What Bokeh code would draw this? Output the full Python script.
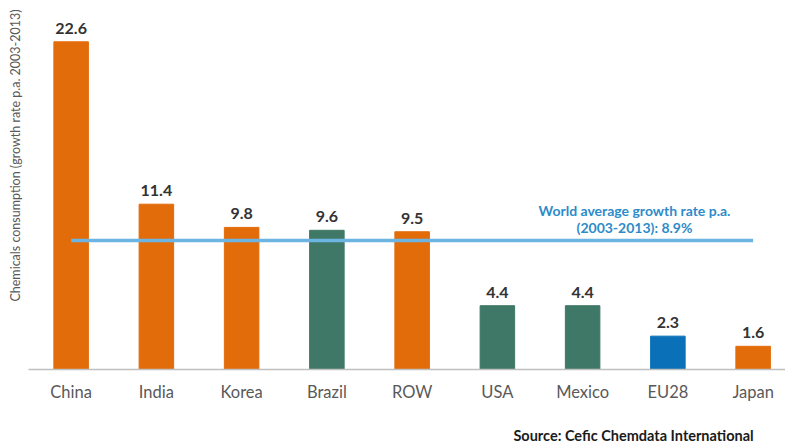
import math
from bokeh.plotting import figure
from bokeh.models import ColumnDataSource
from bokeh.core.properties import value
from bokeh.embed import file_html
from bokeh.resources import INLINE

# ---- data ----
categories = ["China", "India", "Korea", "Brazil", "ROW", "USA", "Mexico", "EU28", "Japan"]
growth = [22.6, 11.4, 9.8, 9.6, 9.5, 4.4, 4.4, 2.3, 1.6]
groups = ["asia", "asia", "asia", "americas", "asia", "americas", "americas", "eu", "asia"]
world_avg = 8.9
y_title = "Chemicals consumption (growth rate p.a. 2003-2013)"
avg_label_1 = "World average growth rate p.a."
avg_label_2 = "(2003-2013): 8.9%"
source_note = "Source: Cefic Chemdata International"

palette = {"asia": "#E36C0A", "americas": "#3F7866", "eu": "#0A71B9"}

W, H = 785, 443
PX_PER_CAT = 85.25
PX_PER_UNIT = 14.5
LEFT_PX = 28
BASE_PX = 369

x_start = -0.5 - LEFT_PX / PX_PER_CAT
x_end = x_start + W / PX_PER_CAT
y_end = BASE_PX / PX_PER_UNIT
y_start = -(H - BASE_PX) / PX_PER_UNIT


def sx(px):
    return x_start + px / PX_PER_CAT


def sy(py):
    return (BASE_PX - py) / PX_PER_UNIT


FONT = "Lato"

p = figure(width=W, height=H, x_range=(x_start, x_end), y_range=(y_start, y_end),
           output_backend="svg", toolbar_location=None,
           x_axis_location=None, y_axis_location=None, min_border=0)
p.grid.visible = False
p.outline_line_color = None
p.background_fill_color = "white"
p.border_fill_color = "white"

idx = list(range(len(categories)))
src = ColumnDataSource(dict(
    x=idx, top=growth, cat=categories,
    color=[palette[g] for g in groups],
    lbl=[f"{v:.1f}" for v in growth],
))

p.vbar(x="x", top="top", bottom=0, width=0.405, color="color", source=src)

# baseline
p.segment(x0=[-0.5], y0=[0], x1=[x_end], y1=[0], line_color="#BFBFBF", line_width=1.5)

# world average line
p.segment(x0=[idx[0]], y0=[world_avg], x1=[idx[-1]], y1=[world_avg],
          line_color="#6CB4E2", line_width=3.5)

# value labels
p.text(x="x", y="top", text="lbl", source=src, text_align="center",
       text_baseline="bottom", y_offset=-8, text_font=value(FONT),
       text_font_style="bold", text_font_size="16px", text_color="#333333")

# category labels
p.text(x="x", y=sy(391), text="cat", source=src, text_align="center",
       text_baseline="middle", text_font=value(FONT), text_font_size="16.5px",
       text_color="#595959")

# world average annotation
p.text(x=[sx(634)], y=[sy(210)], text=[avg_label_1], text_align="center",
       text_baseline="middle", text_font=value(FONT), text_font_style="bold",
       text_font_size="14px", text_color="#2E8BC9")
p.text(x=[sx(634)], y=[sy(227)], text=[avg_label_2], text_align="center",
       text_baseline="middle", text_font=value(FONT), text_font_style="bold",
       text_font_size="14px", text_color="#2E8BC9")

# source note
p.text(x=[sx(633)], y=[sy(435)], text=[source_note], text_align="center",
       text_baseline="middle", text_font=value(FONT), text_font_style="bold",
       text_font_size="14.5px", text_color="#1A1A1A")

# y title
p.text(x=[sx(15)], y=[sy(155)], text=[y_title], angle=math.pi / 2,
       text_align="center", text_baseline="middle", text_font=value(FONT),
       text_font_size="12.5px", text_color="#595959")

open("out.html", "w").write(file_html(p, INLINE))
